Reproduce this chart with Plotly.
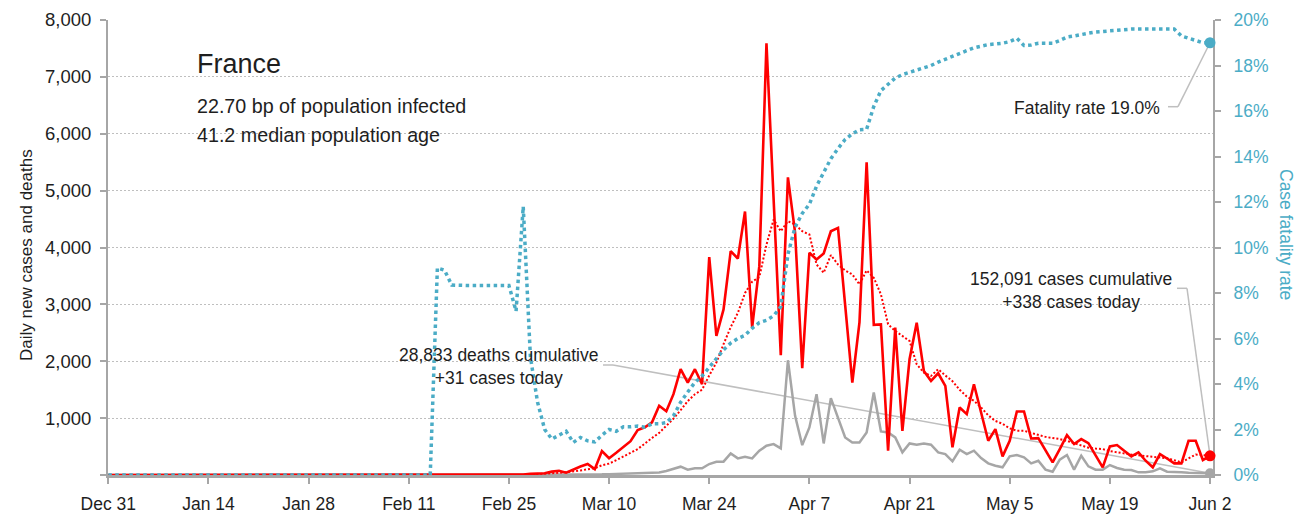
import pandas as pd
import plotly.graph_objects as go

# ---------------- data ----------------
start_date = "2019-12-31"

# daily new cases, Dec 31 .. Jun 2
cases = [
    0, 0, 0, 0, 0, 0, 0, 0, 0, 0,
    0, 0, 0, 0, 0, 0, 0, 0, 0, 0,
    0, 0, 0, 0, 0, 0, 0, 0, 0, 0,
    0, 0, 0, 0, 0, 0, 0, 0, 0, 0,
    0, 0, 0, 0, 0, 0, 0, 0, 0, 0,
    0, 0, 0, 0, 0,
    0, 2, 5, 10, 20, 25, 30, 60, 75, 40,
    100, 150, 193, 103, 420, 295, 390, 490, 595, 790,
    840, 926, 1216, 1120, 1421, 1860, 1626, 1860, 1596, 3830,
    2444, 2912, 3936, 3807, 4632, 2596, 3672, 7590, 4850, 2105,
    5233, 4263, 1877, 3907, 3789, 3895, 4286, 4345, 2985, 1626,
    2684, 5497, 2640, 2649, 426, 2591, 777, 2035, 2679, 1830,
    1655, 1789, 1567, 486, 1187, 1070, 1596, 1100, 602, 807,
    328, 602, 1117, 1117, 643, 649, 427, 222, 456, 702,
    544, 632, 561, 339, 135, 503, 526, 427, 328, 398,
    251, 135, 368, 290, 205, 205, 602, 602, 263, 338,
]

# moving average of daily new cases (dotted red)
cases_avg = [
    0, 0, 0, 0, 0, 0, 0, 0, 0, 0,
    0, 0, 0, 0, 0, 0, 0, 0, 0, 0,
    0, 0, 0, 0, 0, 0, 0, 0, 0, 0,
    0, 0, 0, 0, 0, 0, 0, 0, 0, 0,
    0, 0, 0, 0, 0, 0, 0, 0, 0, 0,
    0, 0, 0, 0, 0, 0, 0, 0, 0, 0,
    15, 20, 30, 40, 50, 60, 80, 100, 120, 170,
    200, 260, 320, 390, 456, 560, 650, 740, 870, 990,
    1140, 1300, 1420, 1500, 1750, 1977, 2300, 2600, 2850, 3200,
    3400, 3480, 4050, 4491, 4286, 4462, 4404, 4286, 4228, 3702,
    3556, 3866, 3702, 3597, 3527, 3351, 3597, 3468, 3176, 2650,
    2532, 2450, 2357, 1947, 1801, 1742, 1860, 1750, 1650, 1500,
    1380, 1304, 1187, 1050, 950, 900, 820, 778, 778, 740,
    700, 670, 650, 632, 600, 560, 520, 480, 465, 456,
    420, 398, 375, 360, 345, 335, 322, 310, 295, 260,
    222, 292, 360, 350, 338,
]

# daily new deaths (grey)
deaths = [
    0, 0, 0, 0, 0, 0, 0, 0, 0, 0,
    0, 0, 0, 0, 0, 0, 0, 0, 0, 0,
    0, 0, 0, 0, 0, 0, 0, 0, 0, 0,
    0, 0, 0, 0, 0, 0, 0, 0, 0, 0,
    0, 0, 0, 0, 0, 0, 0, 0, 0, 0,
    0, 0, 0, 0, 0, 0, 0, 0, 0, 0,
    0,
    2, 3, 4, 5, 6, 7, 8, 10, 12, 15,
    18, 20, 25, 30, 35, 40, 45, 70, 105, 146,
    94, 117, 117, 193, 234, 234, 380, 292, 321, 292,
    427, 514, 544, 468, 2018, 1041, 526, 836, 1421, 555,
    1351, 1012, 661, 573, 573, 749, 1450, 766, 749, 661,
    398, 555, 532, 555, 532, 398, 368, 240, 444, 368,
    427, 298, 205, 164, 135, 328, 351, 310, 205, 251,
    94, 58, 269, 351, 94, 339, 152, 94, 94, 175,
    123, 94, 88, 47, 47, 64, 117, 58, 58, 50,
    40, 40, 35, 31,
]

# case fatality rate, percent (dotted teal)
fatality = [
    0, 0, 0, 0, 0, 0, 0, 0, 0, 0,
    0, 0, 0, 0, 0, 0, 0, 0, 0, 0,
    0, 0, 0, 0, 0, 0, 0, 0, 0, 0,
    0, 0, 0, 0, 0, 0, 0, 0, 0, 0,
    0, 0, 0, 0, 0, 0,
    9.1, 9.0, 8.35, 8.33, 8.33, 8.33, 8.33, 8.33, 8.33, 8.33,
    8.33, 7.2, 11.8, 5.2, 3.2, 2.0, 1.58, 1.75, 1.92, 1.43,
    1.65, 1.5, 1.45, 1.75, 2.0, 1.92, 2.12, 2.12, 2.15, 2.1,
    2.25, 2.25, 2.3, 2.6, 3.2, 3.65, 4.07, 4.35, 4.75, 5.15,
    5.5, 5.8, 6.0, 6.14, 6.45, 6.7, 6.8, 7.0, 7.4, 9.7,
    10.9, 11.5, 11.9, 12.7, 13.3, 13.9, 14.35, 14.75, 15.0, 15.18,
    15.2, 16.2, 16.9, 17.2, 17.45, 17.6, 17.7, 17.78, 17.9, 18.0,
    18.15, 18.27, 18.4, 18.55, 18.65, 18.78, 18.85, 18.92, 18.95, 18.98,
    19.05, 19.2, 18.88, 18.9, 18.98, 18.98, 18.98, 19.1, 19.25, 19.3,
    19.38, 19.42, 19.47, 19.5, 19.52, 19.55, 19.58, 19.6, 19.6, 19.6,
    19.62, 19.62, 19.62, 19.6, 19.3, 19.2, 19.1, 19.0, 19.0,
]

tick_labels = ["Dec 31", "Jan 14", "Jan 28", "Feb 11", "Feb 25", "Mar 10",
               "Mar 24", "Apr 7", "Apr 21", "May 5", "May 19", "Jun 2"]
left_ticks = [0, 1000, 2000, 3000, 4000, 5000, 6000, 7000, 8000]
left_tick_labels = ["", "1,000", "2,000", "3,000", "4,000", "5,000", "6,000", "7,000", "8,000"]
right_ticks = [0, 2, 4, 6, 8, 10, 12, 14, 16, 18, 20]
right_tick_labels = ["0%", "2%", "4%", "6%", "8%", "10%", "12%", "14%", "16%", "18%", "20%"]

country = "France"
infected_bp = "22.70"
median_age = "41.2"
cum_cases = 152091
cum_deaths = 28833

dates = pd.date_range(start_date, periods=len(cases), freq="D")
tick_dates = pd.date_range(start_date, periods=len(tick_labels), freq="14D")

# ---------------- style ----------------
FONT = "Liberation Sans, Arial, sans-serif"
RED = "#FF0000"
GREY = "#A6A6A6"
TEAL = "#4BACC6"
AXIS = "#A6A6A6"
TXT = "#1E1E1E"

W, H = 1315, 518
PL, PR, PT, PB = 108, 1213, 20, 475
X0 = pd.Timestamp("2019-12-30 23:00")
X1 = pd.Timestamp("2020-06-02 10:00")


def fx(p):
    return (p - PL) / (PR - PL)


def fy(p):
    return (PB - p) / (PB - PT)


def xdate(p):
    return X0 + (X1 - X0) * fx(p)


def yval(p, top):
    return fy(p) * top


fig = go.Figure()

fig.add_trace(go.Scatter(x=dates, y=deaths, mode="lines",
                         line=dict(color=GREY, width=2.5), yaxis="y"))
fig.add_trace(go.Scatter(x=dates, y=cases_avg, mode="lines",
                         line=dict(color=RED, width=2, dash="2px,2px"), yaxis="y"))
fig.add_trace(go.Scatter(x=dates, y=cases, mode="lines",
                         line=dict(color=RED, width=2.6), yaxis="y"))
fig.add_trace(go.Scatter(x=dates, y=fatality, mode="lines",
                         line=dict(color=TEAL, width=3.5, dash="dot"), yaxis="y2"))

# end-point markers
fig.add_trace(go.Scatter(x=[dates[-1]], y=[deaths[-1]], mode="markers",
                         marker=dict(color=GREY, size=10), cliponaxis=False, yaxis="y"))
fig.add_trace(go.Scatter(x=[dates[-1]], y=[cases[-1]], mode="markers",
                         marker=dict(color=RED, size=11), cliponaxis=False, yaxis="y"))
fig.add_trace(go.Scatter(x=[dates[-1]], y=[fatality[-1]], mode="markers",
                         marker=dict(color=TEAL, size=11), cliponaxis=False, yaxis="y2"))

# leader lines (elbow + diagonal to the last data point)
LEAD = dict(color="#BFBFBF", width=1.5)
shapes = []


def leader(x_a, x_b, y_px, end_x, end_y, yref, top):
    yv = yval(y_px, top)
    shapes.append(dict(type="line", xref="x", yref=yref, x0=xdate(x_a), x1=xdate(x_b),
                       y0=yv, y1=yv, line=LEAD, layer="below"))
    shapes.append(dict(type="line", xref="x", yref=yref, x0=xdate(x_b), x1=end_x,
                       y0=yv, y1=end_y, line=LEAD, layer="below"))


leader(1168, 1178, 106.7, dates[-1], fatality[-1], "y2", 20)
leader(1177, 1187, 288.3, dates[-1], cases[-1], "y", 8000)
leader(603, 613, 365, dates[-1], deaths[-1], "y", 8000)

ann = []


def text(t, x, y, size, xanchor="left", color=TXT, angle=0, align="left"):
    ann.append(dict(text=t, x=fx(x), y=fy(y), xref="paper", yref="paper",
                    xanchor=xanchor, yanchor="middle", showarrow=False,
                    textangle=angle, align=align,
                    font=dict(family=FONT, size=size, color=color)))


text(country, 195, 64, 27)
text(f"{infected_bp} bp of population infected", 195, 106, 19.7)
text(f"{median_age} median population age", 195, 135, 19.7)
text(f"Fatality rate {fatality[-1]:.1f}%", 1162, 108, 17.5, xanchor="right")
text(f"{cum_cases:,} cases cumulative<br>+{cases[-1]:,} cases today", 1071, 290, 17.5,
     xanchor="center", align="center")
text(f"{cum_deaths:,} deaths cumulative<br>+{deaths[-1]:,} cases today", 498, 366, 17.5,
     xanchor="center", align="center")
text("Daily new cases and deaths", 27, 255, 17, xanchor="center", angle=-90)
text("Case fatality rate", 1286, 234, 17.5, xanchor="center", angle=90, color=TEAL)

fig.update_layout(
    width=W, height=H, autosize=False,
    margin=dict(l=PL, r=W - PR, t=PT, b=H - PB, pad=0, autoexpand=False),
    plot_bgcolor="white", paper_bgcolor="white",
    showlegend=False,
    shapes=shapes,
    annotations=ann,
    xaxis=dict(
        type="date", range=[X0, X1], automargin=False,
        tickvals=tick_dates, ticktext=tick_labels,
        ticks="outside", ticklen=6, tickwidth=2, tickcolor=AXIS,
        ticklabelstandoff=5,
        showline=True, linecolor=AXIS, linewidth=2.5,
        showgrid=False, zeroline=False, layer="below traces",
        tickfont=dict(family=FONT, size=17.5, color=TXT),
    ),
    yaxis=dict(
        range=[0, 8000], automargin=False,
        tickvals=left_ticks, ticktext=left_tick_labels,
        ticks="outside", ticklen=6, tickwidth=1.5, tickcolor=AXIS,
        ticklabelstandoff=5,
        showline=True, linecolor=AXIS, linewidth=2,
        showgrid=True, gridcolor="#BFBFBF", gridwidth=1, griddash="2px,2px",
        zeroline=False, layer="below traces",
        tickfont=dict(family=FONT, size=18.5, color=TXT),
    ),
    yaxis2=dict(
        overlaying="y", side="right", range=[0, 20], automargin=False,
        tickvals=right_ticks, ticktext=right_tick_labels,
        ticks="outside", ticklen=6, tickwidth=1.5, tickcolor=AXIS,
        ticklabelstandoff=9,
        showline=True, linecolor=AXIS, linewidth=2,
        showgrid=False, zeroline=False, layer="below traces",
        tickfont=dict(family=FONT, size=17.5, color=TEAL),
    ),
)

fig.write_html("out.html",
               config={"displayModeBar": False, "responsive": False},
               post_script="document.body.style.margin='0';document.body.style.padding='0';")
